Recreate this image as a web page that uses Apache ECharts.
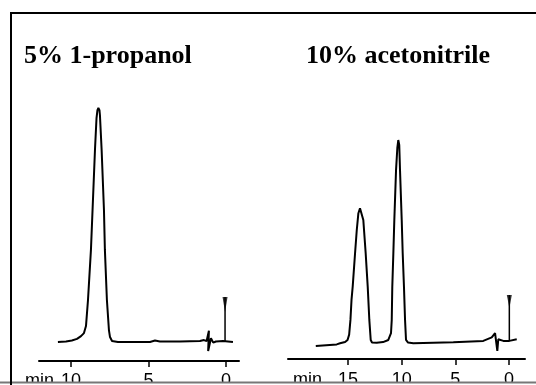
<!DOCTYPE html>
<html>
<head>
<meta charset="utf-8">
<script src="https://cdn.jsdelivr.net/npm/echarts@6/dist/echarts.min.js"></script>
<style>
  html, body { margin: 0; padding: 0; background: #fff; }
  #chart { width: 536px; height: 385px; }
</style>
</head>
<body>
<div id="chart"></div>
<script>
// panel titles
const titles = ["5% 1-propanol", "10% acetonitrile"];

// tick values (minutes)
const leftTicks = [0, 5, 10];
const rightTicks = [0, 5, 10, 15];

// left trace: [retention time (min), detector signal]
const propanolTrace = [
  [10.84, -0.4], [10.32, -0.2], [9.94, 0.2], [9.61, 0.9], [9.35, 2.1],
  [9.16, 3.4], [9.03, 6.4], [8.90, 17.6], [8.71, 39.1], [8.58, 60.5],
  [8.45, 82], [8.35, 95.7], [8.29, 99.1], [8.23, 100], [8.16, 99.1],
  [8.13, 97], [8.02, 82], [7.87, 56.2], [7.81, 39.1], [7.68, 17.6],
  [7.55, 4.7], [7.48, 1.7], [7.35, 0], [6.97, -0.4], [6.19, -0.4],
  [4.90, -0.4], [4.58, 0.2], [4.26, -0.2], [2.97, -0.2], [1.68, 0],
  [1.42, 0.4], [1.25, 0], [1.10, 4.4], [1.15, -4.3], [0.97, 1.2],
  [0.82, -0.7], [0.65, -0.2], [0.19, 0], [-0.45, -0.4]
];

// right trace
const acetonitrileTrace = [
  [18.01, -1.3], [16.06, -0.6], [15.75, -0.1], [15.28, 0.4], [15.05, 1.3],
  [14.90, 3.6], [14.78, 9.9], [14.68, 18.5], [14.57, 24.2], [14.35, 38.5],
  [14.19, 48.5], [14.04, 55.7], [13.89, 57.8], [13.75, 57.1], [13.58, 52.8],
  [13.36, 38.5], [13.17, 24.2], [13.02, 9.9], [12.89, 1.3], [12.77, 0.2],
  [12.33, 0.1], [11.74, 0.4], [11.25, 1.3], [11.00, 4.2], [10.93, 9.9],
  [10.88, 24.0], [10.78, 38.6], [10.69, 52.8], [10.53, 74.2], [10.41, 83.7],
  [10.32, 87.1], [10.23, 85], [10.16, 74.2], [10.00, 52.8], [9.91, 38.6],
  [9.79, 24.0], [9.69, 9.9], [9.60, 1.3], [9.41, 0.2], [8.92, -0.1],
  [5.19, 0.3], [2.40, 0.9], [1.61, 2.4], [1.30, 4.2], [1.16, 3.9],
  [1.09, -3.4], [1.00, 1.6], [0.53, 0.9], [-0.03, 0.9], [-0.72, 1.6]
];

// injection markers: [time, bottom, top, arrow centre]
const leftMarker = [0.06, 0, 18.9, 15.7];
const rightMarker = [-0.03, 0.9, 20.6, 17.8];

const chart = echarts.init(document.getElementById("chart"), null, { renderer: "canvas" });

function xAxisFor(gridIndex, min, max, ticks, margin) {
  return {
    type: "value",
    gridIndex: gridIndex,
    inverse: true,
    min: min,
    max: max,
    axisLine: { show: true, onZero: false, lineStyle: { color: "#000", width: 2 } },
    axisTick: { show: true, length: 6, customValues: ticks, lineStyle: { color: "#000", width: 1.5 } },
    axisLabel: {
      show: true,
      customValues: ticks,
      margin: margin,
      color: "#000",
      fontSize: 18,
      fontFamily: "Liberation Sans"
    },
    splitLine: { show: false }
  };
}

function yAxisFor(gridIndex, min, max) {
  return {
    type: "value",
    gridIndex: gridIndex,
    min: min,
    max: max,
    show: false
  };
}

function traceSeries(idx, data) {
  return {
    type: "line",
    xAxisIndex: idx,
    yAxisIndex: idx,
    data: data,
    showSymbol: false,
    symbol: "none",
    smooth: false,
    lineStyle: { color: "#000", width: 2 },
    silent: true
  };
}

function markerSeries(idx, m, h) {
  return [
    {
      type: "line",
      xAxisIndex: idx,
      yAxisIndex: idx,
      data: [[m[0], m[1]], [m[0], m[2]]],
      symbol: "none",
      lineStyle: { color: "#000", width: 1.5 },
      silent: true
    },
    {
      type: "scatter",
      xAxisIndex: idx,
      yAxisIndex: idx,
      data: [[m[0], m[3]]],
      symbol: "triangle",
      symbolRotate: 180,
      symbolSize: [5, h],
      itemStyle: { color: "#000" },
      silent: true
    }
  ];
}

const option = {
  backgroundColor: "#fff",
  animation: false,
  grid: [
    { left: 39, width: 200, top: 100, height: 261, containLabel: false, outerBoundsMode: "none" },
    { left: 288, width: 237, top: 100, height: 259, containLabel: false, outerBoundsMode: "none" }
  ],
  xAxis: [
    xAxisFor(0, -0.84, 12.06, leftTicks, 11),
    xAxisFor(1, -1.49, 20.6, rightTicks, 12)
  ],
  yAxis: [
    yAxisFor(0, -8.58, 103.43),
    yAxisFor(1, -6.87, 104.29)
  ],
  series: [
    traceSeries(0, propanolTrace),
    traceSeries(1, acetonitrileTrace),
    ...markerSeries(0, leftMarker, 15),
    ...markerSeries(1, rightMarker, 13)
  ],
  graphic: [
    {
      type: "text", x: 24, y: 56, z: 10,
      style: { text: titles[0], font: "bold 26px 'Liberation Serif'", fill: "#000", verticalAlign: "middle" }
    },
    {
      type: "text", x: 306, y: 56, z: 10,
      style: { text: titles[1], font: "bold 26px 'Liberation Serif'", fill: "#000", verticalAlign: "middle" }
    },
    {
      type: "text", x: 25, y: 372, z: 10,
      style: { text: "min", font: "18px 'Liberation Sans'", fill: "#000", verticalAlign: "top" }
    },
    {
      type: "text", x: 293, y: 371, z: 10,
      style: { text: "min", font: "18px 'Liberation Sans'", fill: "#000", verticalAlign: "top" }
    },
    // frame and bottom crop
    {
      type: "rect", z: 100,
      shape: { x: 0, y: 382, width: 536, height: 3 },
      style: { fill: "#fff" }
    },
    {
      type: "line", z: 101,
      shape: { x1: 0, y1: 382.5, x2: 536, y2: 382.5 },
      style: { stroke: "#777", lineWidth: 2 }
    },
    {
      type: "line", z: 101,
      shape: { x1: 11, y1: 13, x2: 536, y2: 13 },
      style: { stroke: "#000", lineWidth: 2 }
    },
    {
      type: "line", z: 101,
      shape: { x1: 11, y1: 12, x2: 11, y2: 385 },
      style: { stroke: "#000", lineWidth: 2 }
    }
  ]
};

chart.setOption(option);
</script>
</body>
</html>
